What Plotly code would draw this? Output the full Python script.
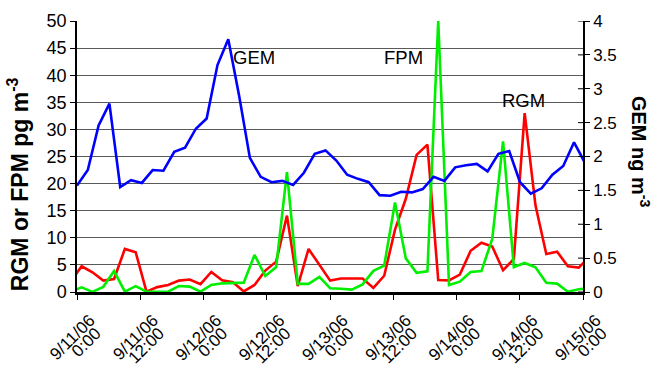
import pandas as pd
import plotly.graph_objects as go

# Time window shown on the x axis
start = pd.Timestamp("2006-09-11 00:00")
end = pd.Timestamp("2006-09-15 00:00")

# Sampling grids: GEM every ~2 h from 0:00, RGM/FPM on an offset grid
gem_time = pd.date_range(start, periods=48, freq="123min")
pm_time = pd.date_range(start - pd.Timedelta(minutes=70), periods=49, freq="123min")

# GEM, ng m-3 (right axis)
gem = [1.57, 1.80, 2.46, 2.78, 1.55, 1.65, 1.61, 1.80, 1.79, 2.07, 2.13, 2.41,
       2.56, 3.35, 3.73, 2.90, 1.98, 1.70, 1.62, 1.64, 1.58, 1.76, 2.04, 2.09,
       1.94, 1.73, 1.67, 1.62, 1.43, 1.42, 1.48, 1.47, 1.52, 1.70, 1.64, 1.84,
       1.87, 1.89, 1.78, 2.04, 2.08, 1.62, 1.45, 1.53, 1.73, 1.86, 2.21, 1.91]

# RGM, pg m-3 (left axis)
rgm = [2.0, 4.75, 3.64, 2.10, 2.40, 7.95, 7.34, 0.06, 0.9, 1.3, 2.1, 2.3,
       1.45, 3.7, 2.15, 1.8, 0.1, 1.3, 3.95, 5.6, 14.1, 1.1, 7.95, 5.0,
       2.1, 2.5, 2.5, 2.5, 0.75, 3.0, 11.5, 17.2, 25.3, 27.2, 2.2, 2.15,
       3.2, 7.6, 9.1, 8.4, 4.0, 6.1, 33.0, 16.0, 7.0, 7.45, 4.75, 4.5, 6.5]

# FPM, pg m-3 (left axis)
fpm = [0.1, 0.86, 0.03, 0.95, 3.85, 0.06, 1.08, 0.06, 0.03, 0.06, 1.1, 0.99,
       0.06, 1.3, 1.6, 1.6, 1.73, 6.85, 2.95, 4.6, 22.1, 1.5, 1.5, 2.8,
       0.7, 0.6, 0.45, 1.4, 3.9, 4.87, 16.5, 6.2, 3.55, 3.8, 50.0, 1.3,
       1.9, 3.7, 3.85, 9.8, 27.8, 4.6, 5.35, 4.55, 1.7, 1.55, 0.06, 0.5, 0.7]

# x tick labels: date on the first line, clock time on the second
tick_times = pd.date_range(start, end, freq="12h")
date_labels = ["9/11/06", "9/11/06", "9/12/06", "9/12/06", "9/13/06",
               "9/13/06", "9/14/06", "9/14/06", "9/15/06"]
time_labels = ["0:00", "12:00", "0:00", "12:00", "0:00", "12:00",
               "0:00", "12:00", "0:00"]

left_ticks = [0, 5, 10, 15, 20, 25, 30, 35, 40, 45, 50]
right_ticks = [0, 0.5, 1, 1.5, 2, 2.5, 3, 3.5, 4]
right_labels = ["0", "0.5", "1", "1.5", "2", "2.5", "3", "3.5", "4"]

FONT = "Liberation Sans, Arial, sans-serif"

fig = go.Figure()
# GEM is drawn on the twin x axis that carries the clock-time labels
fig.add_trace(go.Scatter(x=gem_time, y=gem, mode="lines", name="GEM",
                         line=dict(color="#0000FF", width=2.6),
                         xaxis="x2", yaxis="y2"))
fig.add_trace(go.Scatter(x=pm_time, y=rgm, mode="lines", name="RGM",
                         line=dict(color="#FF0000", width=2.6)))
fig.add_trace(go.Scatter(x=pm_time, y=fpm, mode="lines", name="FPM",
                         line=dict(color="#00EE00", width=2.6)))

# series labels
for txt, t, v in [("GEM", "2006-09-12 09:30", 43.3),
                  ("FPM", "2006-09-13 14:00", 43.3),
                  ("RGM", "2006-09-14 12:45", 35.4)]:
    fig.add_annotation(x=t, y=v, xref="x", yref="y", text=txt, showarrow=False,
                       font=dict(family=FONT, size=18.5, color="black"))

# axis titles
fig.add_annotation(x=-0.1166, y=0.398, xref="paper", yref="paper",
                   xanchor="center", yanchor="middle",
                   text="<b>RGM or FPM pg m<sup>-3</sup></b>", showarrow=False,
                   textangle=-90, font=dict(family=FONT, size=23, color="black"))
fig.add_annotation(x=1.114, y=0.518, xref="paper", yref="paper",
                   xanchor="center", yanchor="middle",
                   text="<b>GEM ng m<sup>-3</sup></b>", showarrow=False,
                   textangle=90, font=dict(family=FONT, size=20, color="black"))

# inner half of the right-axis tick marks
for v in right_ticks:
    fig.add_shape(type="line", xref="paper", yref="y2", x0=1, x1=1 - 5 / 506,
                  y0=v, y1=v, line=dict(color="black", width=1))

fig.update_layout(
    width=656, height=365,
    margin=dict(l=77, r=73, t=21, b=73),
    paper_bgcolor="white", plot_bgcolor="white",
    showlegend=False,
    font=dict(family=FONT, size=18, color="black"),
    xaxis=dict(type="date", range=[start, end], tickmode="array",
               tickvals=tick_times, ticktext=date_labels, tickangle=-45,
               ticklabelshift=13, ticklabelstandoff=4,
               ticks="outside", ticklen=5, tickcolor="black",
               showline=True, linecolor="black", linewidth=2.5,
               showgrid=False, zeroline=False, automargin=False,
               tickfont=dict(family=FONT, size=17)),
    xaxis2=dict(type="date", range=[start, end], overlaying="x", anchor="y2",
                side="bottom", tickmode="array", tickvals=tick_times,
                ticktext=time_labels, tickangle=-45,
                ticklabelshift=19, ticklabelstandoff=27,
                ticks="", showline=False, showgrid=False, zeroline=False,
                automargin=False, tickfont=dict(family=FONT, size=17)),
    yaxis=dict(range=[0, 50], tickmode="array", tickvals=left_ticks,
               ticks="outside", ticklen=5, tickcolor="black",
               showline=True, linecolor="black", linewidth=1.5,
               showgrid=True, gridcolor="#5a5a5a", gridwidth=1,
               zeroline=False, automargin=False,
               tickfont=dict(family=FONT, size=18)),
    yaxis2=dict(range=[0, 4], overlaying="y", side="right", anchor="x",
                tickmode="array", tickvals=right_ticks, ticktext=right_labels,
                ticks="outside", ticklen=5, tickcolor="black",
                showline=True, linecolor="black", linewidth=1.5,
                showgrid=False, zeroline=False, automargin=False,
                tickfont=dict(family=FONT, size=17)),
)

fig.write_html("out.html")
